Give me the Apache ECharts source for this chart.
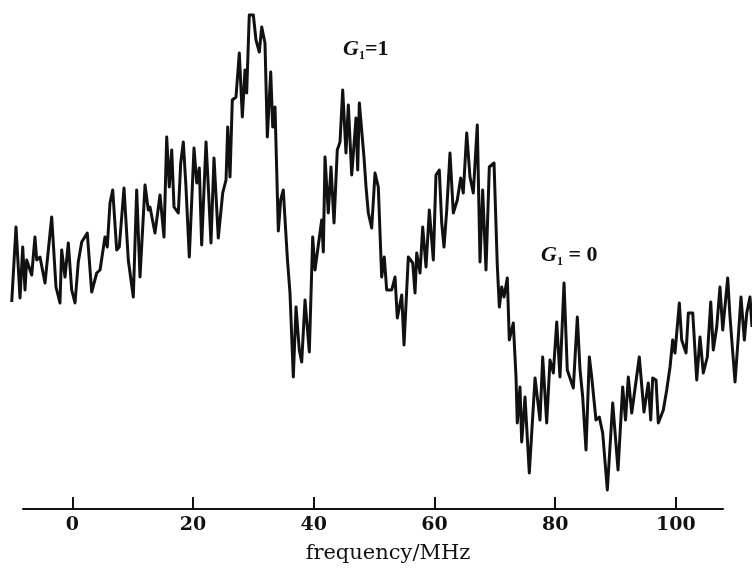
<!DOCTYPE html>
<html>
<head>
<meta charset="utf-8">
<script src="https://cdn.jsdelivr.net/npm/echarts@6/dist/echarts.min.js"></script>
<style>html,body{margin:0;padding:0;background:#fff;}#c{width:752px;height:570px;}</style>
</head>
<body>
<div id="c"></div>
<script>
// frequency (MHz) of each sample
const freq = [
-9.98,-9.27,-8.61,-8.16,-7.78,-7.50,-6.95,-6.67,-6.13,-5.84,-5.30,-4.47,-3.36,-2.65,-1.99,-1.71,-1.16,-0.61,-0.05,0.50,
1.04,1.61,2.53,3.26,4.09,4.64,5.46,5.84,6.29,6.74,7.40,7.83,8.61,9.32,10.15,10.71,11.26,12.09,12.63,12.91,
13.74,14.57,15.23,15.68,16.11,16.51,16.89,17.60,18.00,18.43,18.87,19.42,20.20,20.65,21.08,21.47,22.19,22.57,23.01,23.51,
24.22,24.95,25.50,25.78,26.16,26.54,27.15,27.70,28.20,28.64,28.92,29.35,30.02,30.46,31.01,31.41,31.95,32.34,32.90,33.23,
33.61,34.16,34.55,34.98,35.65,36.09,36.64,37.09,37.63,38.03,38.58,39.29,39.85,40.23,41.34,41.61,41.89,42.43,42.88,43.38,
43.92,44.37,44.82,45.36,45.75,46.31,47.02,47.30,47.57,48.34,48.68,49.06,49.62,50.17,50.71,51.27,51.70,52.10,52.93,53.48,
53.86,54.59,54.97,55.68,56.41,56.79,57.07,57.62,58.06,58.61,59.16,59.82,60.26,60.81,61.21,61.59,62.04,62.58,63.13,63.79,
64.35,64.78,65.35,65.89,66.44,67.10,67.55,67.99,68.54,69.09,69.87,70.41,70.75,71.14,71.52,72.07,72.40,73.06,73.51,73.72,
74.17,74.45,75.00,75.71,76.66,77.48,77.93,78.59,79.14,79.69,80.25,80.79,81.46,82.00,83.00,83.66,84.11,84.55,85.10,85.65,
86.04,86.75,87.30,87.86,88.63,89.52,90.40,91.17,91.64,92.10,92.67,93.92,94.70,95.41,95.81,96.14,96.69,97.07,97.90,98.46,
99.01,99.45,99.83,100.55,100.94,101.66,102.04,102.77,103.43,103.97,104.52,105.18,105.75,106.17,106.74,107.28,107.73,108.56,108.94,109.77,
110.31,110.76,111.31,111.71,112.25,112.58
];
// signal height (arbitrary units) at each sample
const signal = [
207,282,211,262,219,249,239,234,272,249,252,226,292,222,206,259,232,266,219,206,
247,267,276,217,236,239,272,262,306,319,259,262,321,249,212,319,232,324,299,302,
276,314,272,372,322,359,302,296,346,367,322,252,361,326,341,264,367,322,266,351,
271,316,329,382,332,409,412,456,392,439,416,494,494,469,457,482,466,372,437,382,
402,278,309,319,251,216,132,202,159,147,209,157,272,239,289,257,352,296,342,286,
359,367,419,356,404,334,391,339,406,352,322,296,281,336,322,232,252,219,219,232,
191,214,164,252,246,216,256,236,282,242,299,249,334,339,286,262,299,356,296,309,
331,316,376,332,316,384,247,319,239,342,346,244,202,222,212,231,169,186,132,86,
122,67,112,36,131,89,152,86,149,136,187,132,226,139,121,192,139,112,59,152,
132,89,92,76,19,106,39,122,89,132,96,152,97,126,89,131,129,86,99,119,
142,169,156,206,169,156,196,196,129,172,136,152,207,159,182,222,179,231,192,127,
172,212,169,196,212,182
];
const tickValues = [0, 20, 40, 60, 80, 100];
const axisTitle = 'frequency/MHz';

const chart = echarts.init(document.getElementById('c'), null, {renderer: 'canvas'});
chart.setOption({
  backgroundColor: '#ffffff',
  animation: false,
  grid: [
    {left: 0, right: 0, top: 0, bottom: 61},
    {left: 23, right: 29, top: 0, bottom: 61}
  ],
  xAxis: [
    {
      gridIndex: 0, type: 'value', min: -11.92, max: 112.58, show: false, splitLine: {show: false}
    },
    {
      gridIndex: 1, type: 'value', min: -8.16, max: 107.8,
      splitLine: {show: false},
      axisLine: {show: true, onZero: false, lineStyle: {color: '#111', width: 2}},
      axisTick: {show: true, inside: true, length: 12, customValues: tickValues, lineStyle: {color: '#111', width: 2}},
      axisLabel: {
        customValues: tickValues, margin: 7,
        fontFamily: 'DejaVu Serif', fontWeight: 'bold', fontSize: 19, color: '#111'
      },
      name: axisTitle,
      nameLocation: 'middle',
      nameGap: 34,
      nameTextStyle: {fontFamily: 'DejaVu Serif', fontSize: 21, color: '#111', padding: [0, 0, 0, 30]}
    }
  ],
  yAxis: [
    {gridIndex: 0, type: 'value', min: 0, max: 509, show: false, splitLine: {show: false}},
    {gridIndex: 1, type: 'value', min: 0, max: 509, show: false, splitLine: {show: false}}
  ],
  series: [{
    type: 'line',
    xAxisIndex: 0,
    yAxisIndex: 0,
    data: freq.map((f, i) => [f, signal[i]]),
    showSymbol: false,
    smooth: false,
    lineStyle: {color: '#111', width: 3, join: 'round'}
  }],
  graphic: [
    {
      type: 'text', left: 343, top: 38,
      style: {
        text: '{g|G}{s|1}{e|=1}',
        rich: {
          g: {fontFamily: 'Liberation Serif', fontStyle: 'italic', fontWeight: 'bold', fontSize: 22, lineHeight: 26, fill: '#111'},
          s: {fontFamily: 'Liberation Serif', fontWeight: 'bold', fontSize: 12, lineHeight: 14, verticalAlign: 'bottom', fill: '#111'},
          e: {fontFamily: 'Liberation Serif', fontWeight: 'bold', fontSize: 22, lineHeight: 26, fill: '#111'}
        }
      }
    },
    {
      type: 'text', left: 541, top: 244,
      style: {
        text: '{g|G}{s|1}{e| = 0}',
        rich: {
          g: {fontFamily: 'Liberation Serif', fontStyle: 'italic', fontWeight: 'bold', fontSize: 22, lineHeight: 26, fill: '#111'},
          s: {fontFamily: 'Liberation Serif', fontWeight: 'bold', fontSize: 12, lineHeight: 14, verticalAlign: 'bottom', fill: '#111'},
          e: {fontFamily: 'Liberation Serif', fontWeight: 'bold', fontSize: 22, lineHeight: 26, fill: '#111'}
        }
      }
    }
  ]
});
</script>
</body>
</html>
